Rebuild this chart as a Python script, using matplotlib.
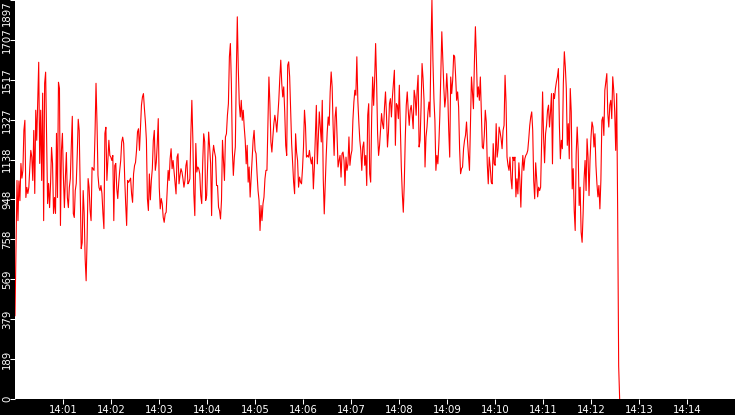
import numpy as np
import pandas as pd
import matplotlib
matplotlib.use('Agg')
import matplotlib.pyplot as plt
import matplotlib.dates as mdates

# samples, one list per ~100px stretch
seg1 = [396, 720, 1039, 848, 1037, 943, 1120, 1050, 1087, 1277, 1325, 958, 1006, 977, 1006, 1101, 1182, 1150, 1039, 1277,
        977, 1373, 1230, 1411, 1601, 1120, 1373, 1039, 1454, 848, 1501, 1554, 1230, 929, 1025, 910, 1025, 1196, 1120, 882,
        958, 882, 1263, 958, 1506, 1477, 825, 1182, 1263, 1053, 910, 1053, 1172, 958, 910, 1006, 1048, 1206, 1344, 882,
        863, 991, 1025, 1163, 1330, 1277, 991, 715, 743, 991, 886, 667, 562, 763, 1048, 1006, 896, 848, 1101, 1094,
        1087, 1263, 1501, 1311, 1063, 1006, 991, 1015, 977, 882, 810, 1263, 1292, 1039, 1134, 1230, 1158, 1150, 1134, 1158,
        848, 1110, 1120, 1000]
seg2 = [953, 1030, 1087, 1134, 1222, 1245, 1215, 1053, 929, 825, 1039, 1030, 1039, 1050, 975, 935, 1070, 1110, 1125, 1182,
        1270, 1285, 1182, 1285, 1397, 1436, 1452, 1380, 1317, 1230, 953, 896, 1070, 947, 1039, 1095, 1230, 1277, 1087, 1125,
        1215, 1333, 1007, 904, 953, 929, 864, 840, 880, 888, 991, 1087, 1039, 1142, 1190, 1095, 1134, 1079, 1023, 975,
        1150, 1166, 1023, 1063, 1095, 1079, 1047, 1007, 1039, 1110, 1134, 1023, 1031, 1047, 1261, 1420, 1237, 975, 872, 1215,
        1079, 1103, 1095, 1070, 967, 929, 1125, 1261, 1222, 944, 967, 1125, 1269, 1198, 1118, 872, 1158, 1206, 1174, 1150,
        1015]
seg3 = [1015, 912, 896, 856, 944, 1230, 1134, 1039, 1246, 1261, 1349, 1404, 1627, 1690, 1500, 1182, 1063, 1150, 1198, 1547,
        1817, 1571, 1404, 1341, 1420, 1325, 1373, 1293, 1230, 1118, 1206, 1031, 1103, 960, 1047, 1134, 1230, 1277, 1182, 1166,
        1071, 991, 944, 801, 920, 848, 928, 960, 1047, 1087, 1087, 1309, 1531, 1404, 1222, 1174, 1246, 1309, 1349, 1317,
        1269, 1341, 1420, 1524, 1611, 1500, 1436, 1484, 1365, 1206, 1158, 1587, 1603, 1531, 1365, 1214, 1118, 1031, 976, 1261,
        1174, 1134, 1007, 1055, 1031, 1023, 1095, 1198, 1373, 1301, 1150, 1158, 1150, 1182, 1142, 1118, 1150, 999, 1103, 1246,
        1396]
seg4 = [1118, 1246, 1365, 1293, 1222, 1420, 1047, 880, 1023, 1158, 1269, 1341, 1301, 1460, 1555, 1484, 1293, 1158, 1341, 1388,
        1246, 1103, 1134, 1158, 1055, 1166, 1174, 1134, 1015, 1150, 1087, 1118, 1246, 1111, 1158, 1182, 1325, 1412, 1468, 1444,
        1627, 1420, 1317, 1230, 1182, 1087, 1198, 1222, 1111, 1158, 1015, 1349, 1404, 1071, 1031, 1341, 1531, 1396, 1516, 1690,
        1508, 1261, 1158, 1206, 1285, 1357, 1309, 1285, 1388, 1460, 1349, 1198, 1269, 1404, 1428, 1341, 1436, 1500, 1563, 1206,
        1404, 1396, 1333, 1492, 1293, 1103, 976, 888, 1023, 1238, 1396, 1460, 1373, 1301, 1373, 1396, 1349, 1285, 1468, 1436]
seg5 = [1349, 1468, 1539, 1198, 1230, 1388, 1595, 1524, 1420, 1103, 1246, 1293, 1365, 1412, 1341, 1674, 1897, 1611, 1428, 1325,
        1087, 1158, 1118, 1214, 1349, 1555, 1746, 1619, 1484, 1388, 1436, 1547, 1452, 1277, 1150, 1531, 1452, 1516, 1635, 1627,
        1531, 1420, 1460, 1388, 1190, 1071, 1095, 1103, 1190, 1230, 1254, 1317, 1230, 1158, 1087, 1317, 1531, 1460, 1380, 1603,
        1770, 1619, 1436, 1484, 1420, 1531, 1357, 1198, 1190, 1254, 1373, 1317, 1118, 1023, 1150, 1103, 1031, 1023, 1214, 1118,
        1111, 1309, 1150, 1190, 1293, 1269, 1238, 1190, 1277, 1301, 1539, 1412, 1150, 1111, 1087, 1150, 1047, 999, 1150, 1134]
seg6 = [1150, 961, 1047, 975, 1123, 1039, 912, 1079, 1158, 1087, 1142, 1158, 1166, 1182, 1237, 1301, 1341, 1365, 1277, 1039,
        952, 1123, 1047, 961, 1007, 991, 1007, 1214, 1460, 1245, 1123, 1261, 1301, 1373, 1397, 1293, 1365, 1452, 1118, 1452,
        1428, 1476, 1508, 1532, 1571, 1301, 1142, 1230, 1190, 1500, 1651, 1579, 1476, 1206, 1309, 1142, 1476, 1365, 999, 1095,
        896, 801, 1166, 1293, 1182, 920, 1007, 793, 745, 880, 1047, 1134, 991, 1237, 1150, 967, 1134, 1245, 1317, 1293,
        1198, 1261, 1110, 1023, 961, 1015, 904, 1039, 1325, 1341, 1253, 1468, 1508, 1547, 1357, 1293, 1397, 1420, 1333, 1532,
        1468, 1365, 1182, 1452, 880, 157, 0]

values = seg1 + seg2 + seg3 + seg4 + seg5 + seg6
start = pd.Timestamp('2020-01-01 14:00:00')
end = pd.Timestamp('2020-01-01 14:15:00')
times = pd.date_range(start, periods=len(values), freq='1235ms')

plt.rcParams['font.family'] = ['DejaVu Sans']

fig = plt.figure(figsize=(7.35, 4.15), dpi=100, facecolor='black')
ax = fig.add_axes([15/735, 16/415, 720/735, 399/415])
ax.set_facecolor('white')
ax.plot(times, values, color='red', linewidth=0.8)

ymax = max(values)
ax.set_ylim(0, ymax)
ax.set_xlim(start, end)

yt = np.linspace(0, ymax, 11)
ax.set_yticks(yt)
ax.set_yticklabels([str(int(t)) for t in yt], rotation=90, va='center', fontsize=7.3)
ax.get_yticklabels()[-1].set_va('top')

ax.xaxis.set_major_locator(mdates.MinuteLocator(byminute=range(1, 15)))
ax.xaxis.set_major_formatter(mdates.DateFormatter('%H:%M'))
ax.tick_params(colors='white', labelcolor='white', direction='out', length=3.6, width=0.75)
ax.tick_params(axis='y', pad=-1.7)
ax.tick_params(axis='x', labelsize=7.3, pad=0.5)
for s in ax.spines.values():
    s.set_visible(False)

fig.savefig('out.png', dpi=100, facecolor='black')
